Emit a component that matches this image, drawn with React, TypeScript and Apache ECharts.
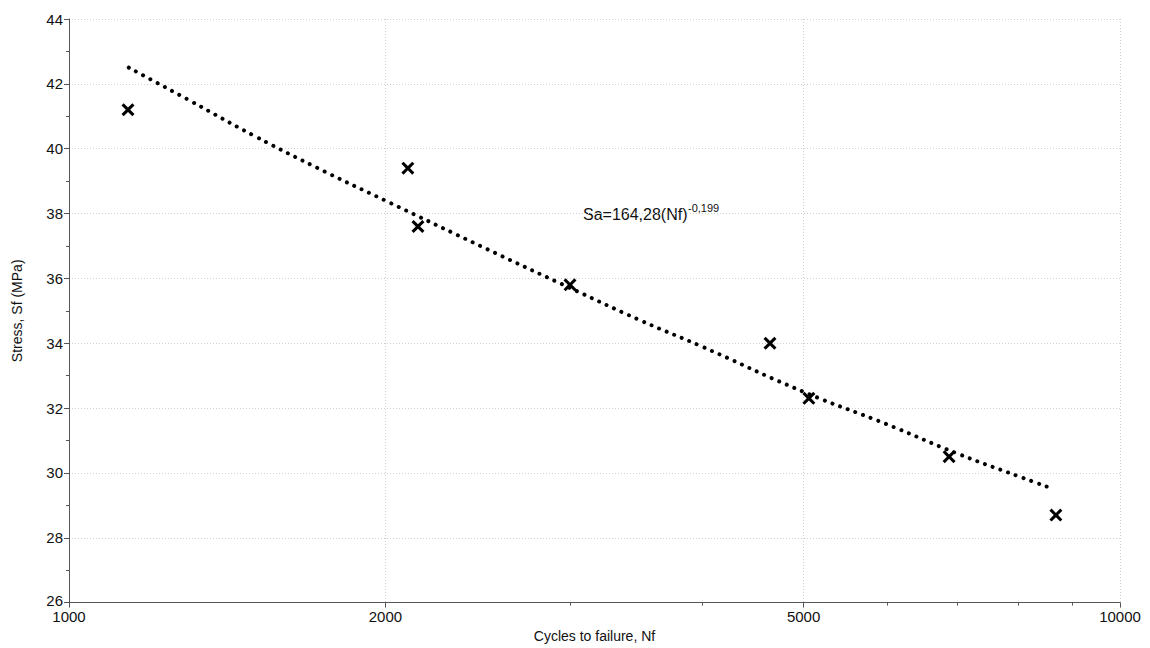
import React, { useEffect, useRef } from "react";
import * as echarts from "echarts";

const cycles = [1138, 2101, 2148, 2997, 4645, 5058, 6877, 8690];
const stress = [41.2, 39.4, 37.6, 35.8, 34.0, 32.3, 30.5, 28.7];

const trendCycles = [1140, 1300, 1500, 1750, 2000, 2500, 3000, 3500, 4000, 5000, 6000, 7000, 8000, 8650];
const trendStress = [42.5, 41.5, 40.4, 39.3, 38.4, 36.9, 35.7, 34.7, 33.9, 32.5, 31.5, 30.6, 29.9, 29.5];

const xMajorTicks = [1000, 2000, 5000, 10000];
const xMinorTicks = [3000, 4000, 6000, 7000, 8000, 9000];

const FONT = "'Liberation Sans', Arial, Helvetica, sans-serif";
const CROSS = "path://M2,0 L6,4 L10,0 L12,2 L8,6 L12,10 L10,12 L6,8 L2,12 L0,10 L4,6 L0,2 Z";

export default function App() {
  const ref = useRef<HTMLDivElement>(null);
  useEffect(() => {
    if (!ref.current) return;
    const chart = echarts.init(ref.current, null, { renderer: "svg" });
    const axisColor = "#555";
    chart.setOption({
      animation: false,
      backgroundColor: "#fff",
      grid: { left: 69, right: 30, top: 19, bottom: 43, containLabel: false },
      xAxis: [
        {
          type: "log",
          logBase: 10,
          min: 1000,
          max: 10000,
          position: "bottom",
          name: "Cycles to failure, Nf",
          nameLocation: "middle",
          nameGap: 24,
          nameTextStyle: { fontFamily: FONT, fontSize: 14, color: "#111" },
          axisLine: { show: true, lineStyle: { color: axisColor, width: 1 } },
          axisTick: { show: true, length: 5, customValues: xMajorTicks, lineStyle: { color: axisColor } },
          axisLabel: {
            customValues: xMajorTicks,
            formatter: (v: number) => String(Math.round(v)),
            fontFamily: FONT,
            fontSize: 15,
            lineHeight: 12,
            color: "#111",
            margin: 8,
            showMinLabel: true,
            showMaxLabel: true,
          },
          splitLine: { show: true, lineStyle: { color: "#d0d0d0", width: 1, type: [1, 2] } },
          minorTick: { show: false },
          minorSplitLine: { show: false },
        },
        {
          type: "log",
          logBase: 10,
          min: 1000,
          max: 10000,
          position: "bottom",
          axisLine: { show: false },
          axisTick: { show: true, length: 3, customValues: xMinorTicks, lineStyle: { color: axisColor } },
          axisLabel: { show: false },
          splitLine: { show: false },
        },
      ],
      yAxis: {
        type: "value",
        min: 26,
        max: 44,
        interval: 2,
        name: "Stress, Sf (MPa)",
        nameLocation: "middle",
        nameGap: 45,
        nameTextStyle: { fontFamily: FONT, fontSize: 14, color: "#111" },
        axisLine: { show: true, lineStyle: { color: axisColor, width: 1 } },
        axisTick: { show: true, length: 5, lineStyle: { color: axisColor } },
        minorTick: { show: true, splitNumber: 2, length: 3, lineStyle: { color: axisColor } },
        axisLabel: {
          fontFamily: FONT,
          fontSize: 15,
          lineHeight: 12,
          color: "#111",
          margin: 6,
          formatter: (v: number) => (v === 26 ? "{m|26}" : String(v)),
          rich: {
            m: { fontFamily: FONT, fontSize: 15, lineHeight: 12, color: "#111", padding: [0, 0, 4, 0] },
          },
        },
        splitLine: { show: true, lineStyle: { color: "#d0d0d0", width: 1, type: [1, 2] } },
      },
      graphic: [
        {
          type: "text",
          left: 583,
          top: 206,
          style: { text: "Sa=164,28(Nf)", font: `16px ${FONT}`, fill: "#111" },
        },
        {
          type: "text",
          left: 688,
          top: 202,
          style: { text: "-0,199", font: `11px ${FONT}`, fill: "#111" },
        },
      ],
      series: [
        {
          type: "line",
          xAxisIndex: 0,
          data: trendCycles.map((c, i) => [c, trendStress[i]]),
          smooth: true,
          showSymbol: false,
          silent: true,
          lineStyle: { color: "#000", width: 4, type: [0.01, 8.2], cap: "round" },
          z: 2,
        },
        {
          type: "scatter",
          xAxisIndex: 0,
          data: cycles.map((c, i) => [c, stress[i]]),
          symbol: CROSS,
          symbolSize: 13,
          itemStyle: { color: "#000", opacity: 1 },
          z: 3,
        },
      ],
    });
    return () => chart.dispose();
  }, []);
  return (
    <div
      ref={ref}
      style={{ position: "absolute", left: 0, top: 0, width: 1150, height: 648 }}
    />
  );
}
